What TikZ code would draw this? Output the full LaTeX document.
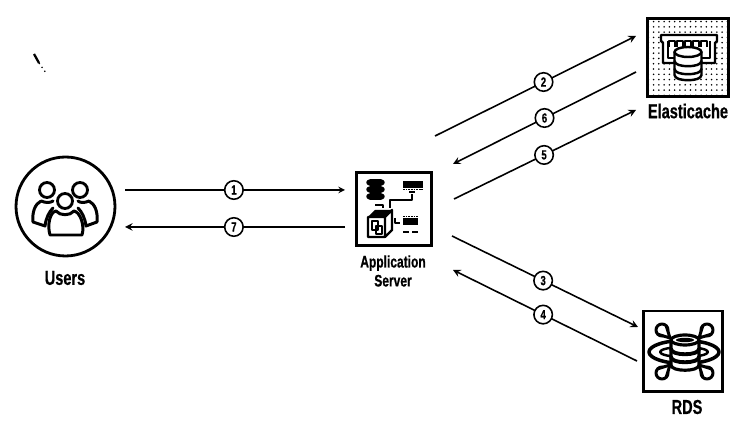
\documentclass[tikz,border=0pt]{standalone}
\usepackage{fontspec}
\setsansfont{Liberation Sans}[FakeStretch=0.72,BoldFeatures={FakeStretch=0.72,FakeBold=0.6}]
\usetikzlibrary{patterns}
\tikzset{
	flow/.style={->,line width=0.9pt},
	stepno/.style={circle,draw,fill=white,line width=0.9pt,inner sep=0pt,minimum size=0.37cm,font=\sffamily\bfseries\fontsize{7.5}{7.5}\selectfont},
	iconbox/.style={draw,line width=1.7pt,fill=white},
	caption/.style={font=\sffamily\bfseries\fontsize{11.5}{13}\selectfont,align=center,inner sep=0pt},
	smallcaption/.style={font=\sffamily\bfseries\fontsize{9.5}{10.8}\selectfont,align=center,inner sep=0pt},
	icon/.style={line width=1.4pt,line join=round,line cap=round},
	thinicon/.style={line width=0.9pt,line join=round},
}
\newcommand{\dbdisk}[4]{% x, top y, half width, bottom y
	\draw[icon,fill=white] (#1-#3,#2)--(#1-#3,#4) .. controls (#1-#3,#4+7) and (#1+#3,#4+7) .. (#1+#3,#4)--(#1+#3,#2);
	\draw[icon,fill=white] (#1,#2) ellipse (#3 and 5);
}
\begin{document}
\begin{tikzpicture}[x=0.02cm,y=-0.02cm,>=stealth]
	\useasboundingbox (0,0) rectangle (748,438);
	% nodes
	\node[circle,draw,line width=1.6pt,minimum size=1.98cm,inner sep=0pt] (users) at (65.5,206.5) {};
	\node[caption] (userstext) at (65,278) {Users};
	\node[iconbox,minimum width=1.5cm,minimum height=1.46cm,inner sep=0pt] (app) at (394,209) {};
	\node[smallcaption] (apptext) at (393,271) {Application\\Server};
	\node[draw,line width=1.6pt,pattern=dots,minimum width=1.62cm,minimum height=1.56cm,inner sep=0pt] (cache) at (688,57.5) {};
	\node[caption] (cachetext) at (688,111) {Elasticache};
	\node[iconbox,minimum width=1.58cm,minimum height=1.62cm,inner sep=0pt] (rds) at (683,351.5) {};
	\node[caption] (rdstext) at (687,407) {RDS};
	% free ends of the arrows
	\foreach \n/\x/\y in {a1/125/190,b1/345/190,a7/345/227,b7/125/227,a2/435/136,b2/636/36,a6/636/72,b6/453/164,a5/454/199,b5/636/110,a3/452/236,b3/638/327,a4/637/361,b4/453/270}
	\coordinate (\n) at (\x,\y);
	\draw[->,line width=0.7pt] (a1) -- node[stepno,pos=0.495] (s1) {1} (b1);
	\foreach \n/\p in {7/0.505,2/0.54,6/0.5,5/0.495,3/0.49,4/0.51}
	\draw[flow] (a\n) -- node[stepno,pos=\p] (s\n) {\n} (b\n);
	% users icon
	\draw[icon,line width=1.6pt] (47,190) circle (7.5) (80,190) circle (7.5) (65,201) circle (7.5);
	\draw[icon,line width=1.7pt] (50,235)--(82,235) .. controls (85,225) and (80,212) .. (74,211) .. controls (70,216) and (60,216) .. (56,211) .. controls (50,212) and (47,225) .. (50,235)--cycle;
	\draw[icon,line width=1.7pt] (41,201) .. controls (35,204) and (32,212) .. (33,222)--(45,226) .. controls (46,218) and (49,212) .. (53,208) (53,201) .. controls (50,203) and (46,203) .. (41,201);
	\draw[icon,line width=1.7pt] (89,201) .. controls (95,204) and (98,212) .. (97,222)--(86,226) .. controls (85,218) and (82,212) .. (78,208) (78,201) .. controls (80,203) and (85,203) .. (89,201);
	% application server icon
	\foreach \y in {183,190,197}
	\draw[thinicon,fill=black] (370,\y-3)--(381,\y-3) .. controls (385,\y-2) and (385,\y+1) .. (381,\y+2)--(370,\y+2) .. controls (366,\y+1) and (366,\y-2) .. (370,\y-3);
	\draw[thinicon] (375,205)--(383,205)--(383,208) (390,208)--(390,200)--(412,200)--(412,194);
	\fill (403,181) rectangle (423,188);
	\draw[thinicon,dash pattern=on 1pt off 0.5pt] (403,189.5)--(423,189.5);
	\fill (409,191) rectangle (415,193);
	\fill (375,210)--(392,210)--(385,217)--(368,217)--cycle;
	\draw[icon] (368,217) rectangle (385,237) (385,217)--(392,210)--(392,230)--(385,237);
	\draw[thinicon] (372,221) rectangle (378,230) (376,226) rectangle (382,234);
	\draw[thinicon] (395,218)--(395,223)--(400,223);
	\fill (403,218) rectangle (418,225);
	\draw[thinicon,dash pattern=on 1pt off 0.5pt] (403,216.5)--(418,216.5);
	\draw[thinicon] (403,232)--(409,232) (412,232)--(418,232);
	% elasticache icon
	\draw[icon,fill=white] (674,63)--(663,63)--(663,43)--(661,41)--(661,35)--(717,35)--(717,41)--(715,43)--(715,63)--(702,63);
	\draw[thinicon] (668,41)--(668,58)--(674,58) (710,41)--(710,58)--(702,58);
	\foreach \x in {672,680,688,696,704}
	\draw[thinicon] (\x-3,47)--(\x-3,41)--(\x+3,41)--(\x+3,47);
	\dbdisk{688}{52}{13.5}{75}
	\draw[icon] (674.5,61) .. controls (674.5,68) and (701.5,68) .. (701.5,61);
	\draw[icon] (674.5,69) .. controls (674.5,76) and (701.5,76) .. (701.5,69);
	% rds icon
	\foreach \x/\y/\u/\v/\p/\q in {662/330/670/338/4.2/-4.2,707/330/699/338/4.2/4.2,662/373/670/365/4.2/4.2,707/373/699/365/4.2/-4.2}{
		\draw[icon,line width=1.7pt] (\x,\y) circle (6);
		\draw[icon,line width=1.7pt,fill=white] (\x+\p,\y+\q)--(\u,\v)--(\x-\p,\y-\q);
	}
	\draw[icon,line width=2pt] (684,352) ellipse (35 and 11.5);
	\draw[icon] (684,352) ellipse (24 and 5);
	\begin{scope}[icon/.append style={line width=1.8pt}]
		\dbdisk{685}{340}{14}{365}
	\end{scope}
	\fill (685,340) ellipse (9 and 2.2);
	\draw[icon,line width=2.2pt] (671,349) .. controls (671,356) and (699,356) .. (699,349);
	\draw[icon,line width=2.2pt] (671,357) .. controls (671,364) and (699,364) .. (699,357);
	% speck top left
	\draw[line width=1.3pt] (34,54)--(39,63);
	\draw[line width=0.7pt,dotted] (39,63)--(46,73);
\end{tikzpicture}
\end{document}
